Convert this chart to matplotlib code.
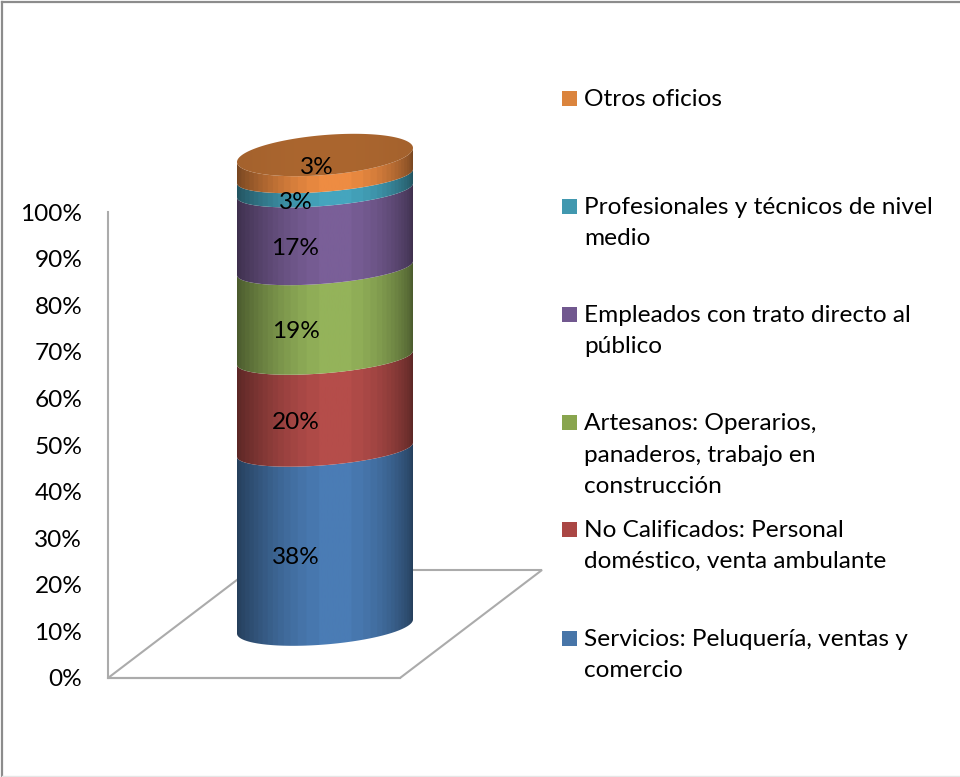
import numpy as np
import matplotlib
matplotlib.use("Agg")
import matplotlib.pyplot as plt
from matplotlib.lines import Line2D
from matplotlib.patches import Polygon, Rectangle

plt.rcParams["font.family"] = ["Lato", "DejaVu Sans"]

# Data, bottom to top
categories = [
    "Servicios: Peluquería, ventas y\ncomercio",
    "No Calificados: Personal\ndoméstico, venta ambulante",
    "Artesanos: Operarios,\npanaderos, trabajo en\nconstrucción",
    "Empleados con trato directo al\npúblico",
    "Profesionales y técnicos de nivel\nmedio",
    "Otros oficios",
]
values = [37.5, 19.5, 19.0, 16.5, 3.0, 4.5]
value_labels = ["38%", "20%", "19%", "17%", "3%", "3%"]
wall_colors = ["#4A7CB5", "#B54D4A", "#94B35A", "#7A5F98", "#45A5BE", "#EE8C42"]
swatch_colors = ["#4775A8", "#AA4644", "#89A54E", "#71588F", "#4198AF", "#DB843D"]
y_ticks = [0, 10, 20, 30, 40, 50, 60, 70, 80, 90, 100]
legend_y = [654, 545, 454, 330, 222, 98]

W, H = 960, 777
FONT = 17.6
fig = plt.figure(figsize=(W / 100, H / 100), dpi=100)


def px_x(x):
    return x / W


def px_y(y):
    return 1 - y / H


# axes frame: 0% at y=678, 100% at y=212
ax = fig.add_axes([px_x(108), px_y(678), (400 - 108) / W, (678 - 212) / H])
ax.set_xlim(108, 400)
ax.set_ylim(0, 100)
ax.set_xticks([])
ax.set_yticks(y_ticks)
ax.set_yticklabels([f"{t}%" for t in y_ticks], fontsize=FONT, color="black")
ax.tick_params(axis="y", length=0, pad=18.5)
for s in ["top", "right"]:
    ax.spines[s].set_visible(False)
for s in ["left", "bottom"]:
    ax.spines[s].set_color("#ABABAB")
    ax.spines[s].set_linewidth(1.5)
ax.patch.set_visible(False)

per_px = 100 / (678 - 212)  # data units per pixel


def dy(px):
    return px * per_px


# floor, behind the cylinder
floor_rise = dy(678 - 570)
ax.add_patch(Polygon(
    [(108, 0), (400, 0), (542, floor_rise), (250, floor_rise)],
    closed=True, fill=False, edgecolor="#ABABAB", linewidth=1.5,
    clip_on=False, zorder=1,
))

# cylinder geometry
cx, rx = 325, 88
base = dy(678 - 626.5)
scale = (626.5 - 155) / 466
tilt = 0.08


def arc(level, start, stop):
    t = np.linspace(start, stop, 120)
    # the inner seams curve a little less than the two ends
    if level <= 0:
        b = 18
    elif level >= 100:
        b = 20
    else:
        b = 15.5
    x = cx + rx * np.cos(t)
    y = base + level * scale + dy(tilt * (x - cx)) + dy(b) * np.sin(t)
    return x, y


def front_arc(level):
    return arc(level, np.pi, 2 * np.pi)


def back_arc(level):
    return arc(level, 0, np.pi)


def clipped_fill(poly, shade, col, zorder):
    ax.add_patch(poly)
    rgb = np.array(matplotlib.colors.to_rgb(col))
    img = (shade[None, :, None] * rgb[None, None, :]).clip(0, 1)
    im = ax.imshow(
        img, extent=[cx - rx, cx + rx, -20, 130], aspect="auto",
        origin="lower", interpolation="bilinear", zorder=zorder,
    )
    im.set_clip_path(poly)
    # images are cut to the axes box unless told otherwise
    im.set_clip_box(fig.bbox)


# horizontal shading of the cylinder wall, brightest right of centre
u = np.linspace(0, 1, 240)
shade = 0.5 + 0.5 * np.sin(np.pi * u ** 1.2) ** 0.7
shade = np.round(shade * 30) / 30

bottoms = np.concatenate([[0], np.cumsum(values)[:-1]])
for v, b0, col in zip(values, bottoms, wall_colors):
    x0, y0 = front_arc(b0)
    x1, y1 = front_arc(b0 + v)
    poly = Polygon(
        np.column_stack([np.r_[x0, x1[::-1]], np.r_[y0, y1[::-1]]]),
        closed=True, facecolor="none", edgecolor="none",
    )
    clipped_fill(poly, shade, col, 3)

# top face
xf, yf = front_arc(100)
xb, yb = back_arc(100)
top_poly = Polygon(
    np.column_stack([np.r_[xf, xb[1:-1]], np.r_[yf, yb[1:-1]]]),
    closed=True, facecolor="none", edgecolor="none",
)
clipped_fill(top_poly, 0.96 + 0.04 * np.sin(np.pi * u), "#AB662F", 4)
ax.set_xlim(108, 400)
ax.set_ylim(0, 100)

# data labels sit on the front of each segment
for v, b0, lab in zip(values[:-1], bottoms[:-1], value_labels[:-1]):
    mid = base + (b0 + v / 2) * scale - dy(19)
    ax.text(295.5, mid, lab, ha="center", va="center", fontsize=FONT, color="black",
            zorder=6, clip_on=False)
ax.text(316.5, base + 97.75 * scale - dy(1.5), value_labels[-1], ha="center", va="center",
        fontsize=FONT, color="black", zorder=6, clip_on=False)

# legend
for name, col, ly in zip(categories, swatch_colors, legend_y):
    n = name.count("\n") + 1
    first = ly - (n - 1) * 16
    fig.add_artist(Rectangle(
        (px_x(562), px_y(first + 8)), 15 / W, 15 / H,
        transform=fig.transFigure, facecolor=col, edgecolor="none",
    ))
    fig.text(px_x(584), px_y(ly + 1), name, ha="left", va="center", fontsize=FONT,
             color="black", linespacing=1.61)

# chart border: left and top only, the bottom is barely there
fig.add_artist(Line2D([px_x(2), px_x(2)], [px_y(2), px_y(777)], color="#8C8C8C", lw=1.6))
fig.add_artist(Line2D([px_x(2), px_x(960)], [px_y(2), px_y(2)], color="#8C8C8C", lw=1.6))
fig.add_artist(Line2D([px_x(2), px_x(960)], [px_y(776), px_y(776)], color="#E6E6E6", lw=1))

fig.savefig("out.png", dpi=100)
